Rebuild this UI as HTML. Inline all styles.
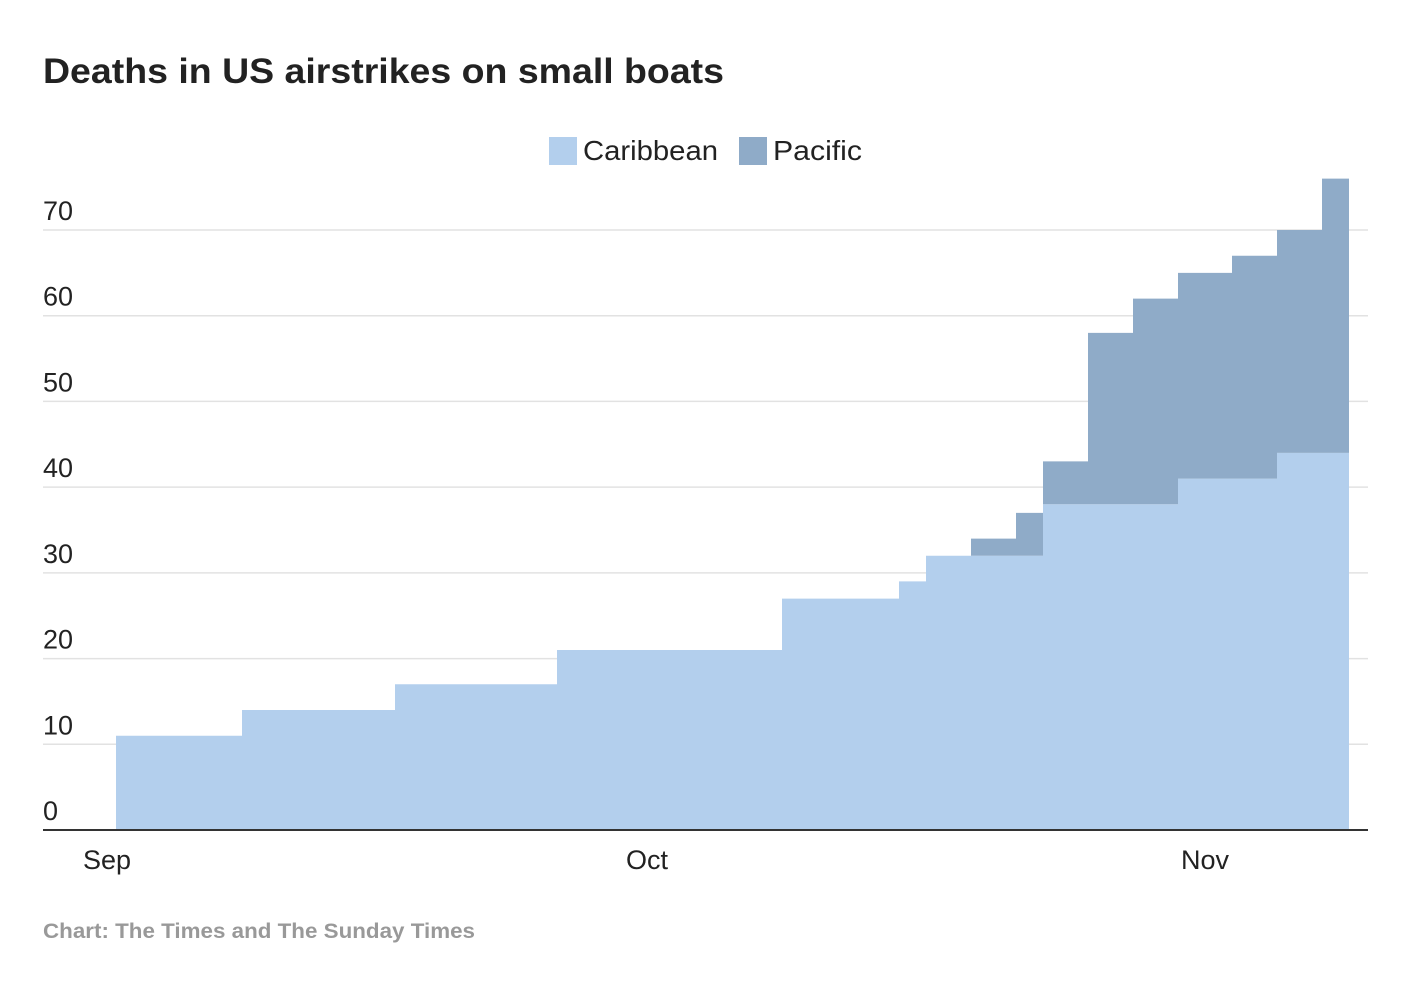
<!DOCTYPE html>
<html><head><meta charset="utf-8"><style>
body{margin:0;background:#fff;font-family:"Liberation Sans",Arial,sans-serif;}
svg{display:block}
</style></head><body>
<svg id="chart" width="1416" height="992">
<text x="43" y="83" font-size="35" font-weight="bold" fill="#222" textLength="681" lengthAdjust="spacingAndGlyphs">Deaths in US airstrikes on small boats</text>
<g>
<rect x="549" y="137" width="28" height="28" fill="#b3cfed"/>
<text x="583" y="160" font-size="28" fill="#222" textLength="135" lengthAdjust="spacingAndGlyphs">Caribbean</text>
<rect x="739" y="137" width="28" height="28" fill="#8fabc8"/>
<text x="773" y="160" font-size="28" fill="#222" textLength="89" lengthAdjust="spacingAndGlyphs">Pacific</text>
</g>
<g id="grid"></g>
<g id="areas"></g>
<g id="axes"></g>
<text x="43" y="938" font-size="21" font-weight="bold" fill="#999" textLength="432" lengthAdjust="spacingAndGlyphs">Chart: The Times and The Sunday Times</text>
</svg>
<script>
// days since Sep 1
const stepDays = [0.5,7.5,16,25,37.5,44,45.5,48,50.5,52,54.5,57,59.5,62.5,65,67.5];
const endDay = 69;
const caribbean = [11,14,17,21,27,29,32,32,32,38,38,38,41,41,44,44];
const pacific = [0,0,0,0,0,0,0,2,5,5,20,24,24,26,26,32];
const yTicks = [0,10,20,30,40,50,60,70];
const xTickDays = [0,30,61];
const xTickLabels = ["Sep","Oct","Nov"];

const NS="http://www.w3.org/2000/svg";
const x = d => 107 + d*18;
const y = v => 830 - v*(600/70);
function mk(t,a,p){const e=document.createElementNS(NS,t);for(const k in a)e.setAttribute(k,a[k]);p.appendChild(e);return e;}
const grid=document.getElementById('grid'), areas=document.getElementById('areas'), axes=document.getElementById('axes');

yTicks.forEach(v=>{
  if(v>0){const l=mk('line',{x1:43,x2:1368,y1:y(v),y2:y(v),stroke:'#e2e2e2','stroke-width':1.5},grid);
  
  }
  const t=mk('text',{x:43,y:y(v)-10,'font-size':27,fill:'#222'},axes);
  t.textContent=v;
  
  
});

function stepPath(top, bottom){
  let d='';
  for(let i=0;i<stepDays.length;i++){
    const x0=x(stepDays[i]), x1=x(i<stepDays.length-1?stepDays[i+1]:endDay);
    d+=(i===0?'M':'L')+x0+','+y(top[i])+' L'+x1+','+y(top[i])+' ';
  }
  for(let i=stepDays.length-1;i>=0;i--){
    const x0=x(stepDays[i]), x1=x(i<stepDays.length-1?stepDays[i+1]:endDay);
    d+='L'+x1+','+y(bottom[i])+' L'+x0+','+y(bottom[i])+' ';
  }
  return d+'Z';
}
const zeros=caribbean.map(()=>0);
const totals=caribbean.map((c,i)=>c+pacific[i]);
const a1=mk('path',{d:stepPath(caribbean,zeros),fill:'#b3cfed'},areas);


const a2=mk('path',{d:stepPath(totals,caribbean),fill:'#8fabc8'},areas);



const ax=mk('line',{x1:43,x2:1368,y1:830,y2:830,stroke:'#333','stroke-width':2},axes);


xTickDays.forEach((d,i)=>{
  const t=mk('text',{x:x(d),y:869,'font-size':27,fill:'#222','text-anchor':'middle'},axes);
  t.textContent=xTickLabels[i];
  
  
});
</script>
</body></html>
